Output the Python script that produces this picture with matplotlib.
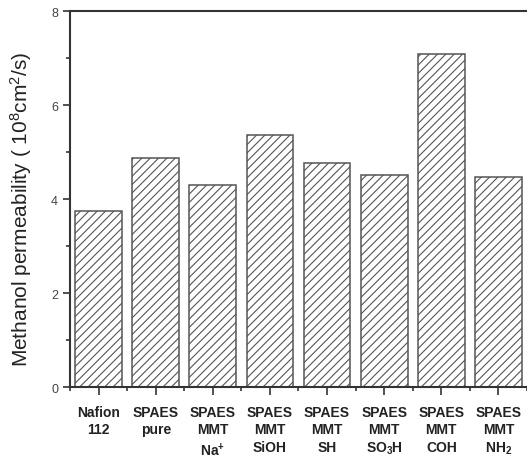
import numpy as np
import matplotlib.pyplot as plt
from matplotlib.ticker import MultipleLocator, FixedLocator

plt.rcParams['font.family'] = ['Liberation Sans', 'DejaVu Sans']
plt.rcParams['mathtext.fontset'] = 'custom'
plt.rcParams['mathtext.rm'] = 'Liberation Sans'
plt.rcParams['mathtext.bf'] = 'Liberation Sans:bold'
plt.rcParams['mathtext.default'] = 'regular'
plt.rcParams['hatch.color'] = '#acacac'
plt.rcParams['hatch.linewidth'] = 0.8

membranes = ['Nafion\n112', 'SPAES\npure', 'SPAES\nMMT\nNa$^{\\mathbf{+}}$',
             'SPAES\nMMT\nSiOH', 'SPAES\nMMT\nSH', 'SPAES\nMMT\nSO$_{\\mathbf{3}}$H',
             'SPAES\nMMT\nCOH', 'SPAES\nMMT\nNH$_{\\mathbf{2}}$']
permeability = [3.75, 4.87, 4.29, 5.37, 4.77, 4.51, 7.09, 4.47]

fig = plt.figure(figsize=(5.27, 4.60), dpi=100)
ax = fig.add_axes([0.1328, 0.1565, 0.8672, 0.8174])

x = np.arange(1, len(membranes) + 1)
ax.bar(x, permeability, width=0.82, facecolor='white', edgecolor='#555555',
       linewidth=1.1, hatch='////')

ax.set_xlim(0.5, 8.5)
ax.set_ylim(0, 8)

ax.set_xticks(x)
ax.set_xticklabels(membranes, fontsize=10, fontweight='bold', color='#222222',
                   va='top', linespacing=1.3)
ax.xaxis.set_minor_locator(FixedLocator(np.arange(0.5, 9.0, 1.0)))
ax.yaxis.set_major_locator(MultipleLocator(2))
ax.yaxis.set_minor_locator(MultipleLocator(1))

ax.tick_params(axis='x', which='major', direction='out', length=6, width=1.2,
               pad=7, color='#333333')
ax.tick_params(axis='x', which='minor', direction='out', length=3, width=1.2,
               color='#333333')
ax.tick_params(axis='y', which='major', direction='out', length=5, width=1.2,
               labelsize=9, labelcolor='#444444', color='#333333')
ax.tick_params(axis='y', which='minor', direction='out', length=3, width=1.2,
               color='#333333')

for side in ['left', 'bottom', 'top']:
    ax.spines[side].set_linewidth(1.5)
    ax.spines[side].set_color('#333333')
ax.spines['right'].set_visible(False)

ax.set_ylabel('Methanol permeability ( 10$^{8}$cm$^{2}$/s)', fontsize=15,
              color='#222222')
ax.yaxis.set_label_coords(-0.078, 0.476)

fig.savefig('out.png', dpi=100)
